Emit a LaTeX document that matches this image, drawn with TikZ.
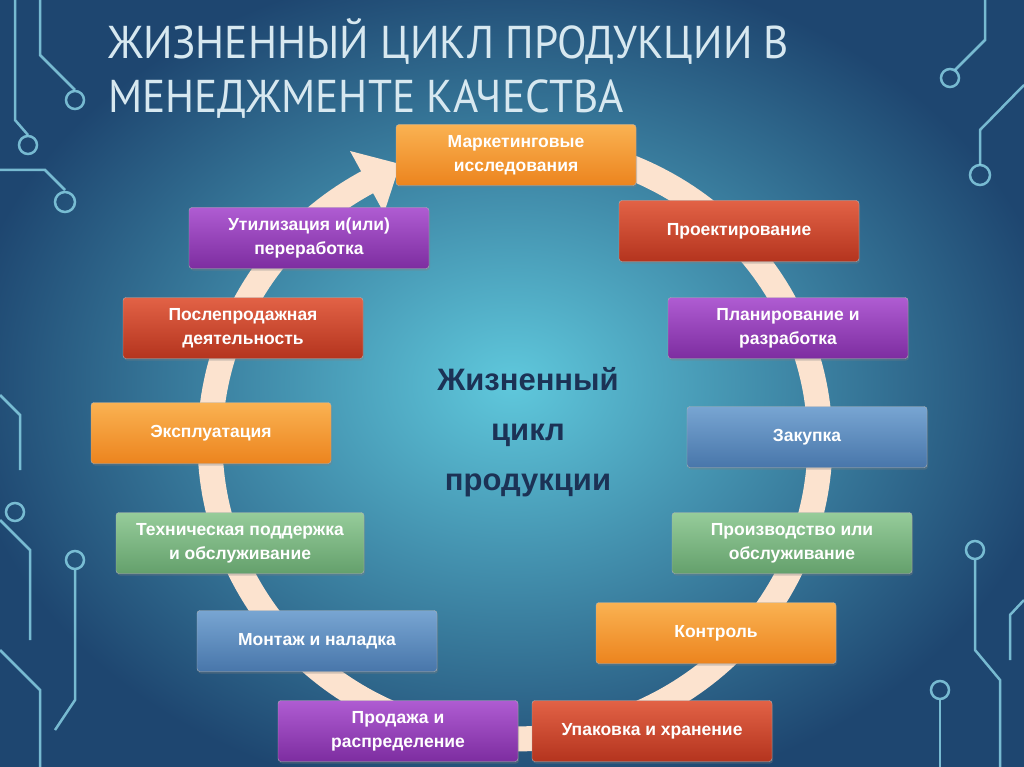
\documentclass[tikz,border=0pt]{standalone}
\usepackage{fontspec}
\setmainfont{Liberation Sans}
\newfontfamily\titlefont{PT Sans}
\usetikzlibrary{arrows.meta,shadows}
\definecolor{ringc}{HTML}{FCE3CF}
\definecolor{circ}{HTML}{8ED8EA}
\begin{document}
\begin{tikzpicture}[x=1pt,y=-1pt,
  bx/.style={rounded corners=3pt,minimum width=240pt,minimum height=61pt,align=center,
    text=white,font=\bfseries\fontsize{17.5}{24}\selectfont,draw=white!70!black,line width=0.4pt,
    drop shadow={shadow xshift=1pt,shadow yshift=-2pt,opacity=0.35}},
  cor/.style={bx,top color={rgb,255:red,250;green,178;blue,82},bottom color={rgb,255:red,236;green,132;blue,30}},
  cred/.style={bx,top color={rgb,255:red,226;green,98;blue,70},bottom color={rgb,255:red,180;green,52;blue,30}},
  cpu/.style={bx,top color={rgb,255:red,175;green,92;blue,210},bottom color={rgb,255:red,125;green,45;blue,160}},
  cbl/.style={bx,top color={rgb,255:red,120;green,165;blue,210},bottom color={rgb,255:red,72;green,118;blue,170}},
  cgr/.style={bx,top color={rgb,255:red,150;green,204;blue,154},bottom color={rgb,255:red,100;green,160;blue,108}},
  ckt/.style={circ,line width=2.5pt,opacity=0.8},
  dot/.style={circ,line width=2.5pt,opacity=0.8}]
\useasboundingbox (0,0) rectangle (1024,767);
\shade[inner color={rgb,255:red,95;green,200;blue,220},outer color={rgb,255:red,30;green,70;blue,112}]
  (-40,-40) rectangle (1064,807);
% circuit decorations
\draw[ckt] (40,0) -- (40,55) -- (75,90);
\draw[dot] (75,100) circle (9);
\draw[ckt] (15,0) -- (15,120) -- (28,135);
\draw[dot] (28,145) circle (9);
\draw[ckt] (0,170) -- (45,170) -- (65,190);
\draw[dot] (65,202) circle (10);
\draw[ckt] (985,0) -- (985,40) -- (955,70);
\draw[dot] (950,78) circle (9);
\draw[ckt] (1024,85) -- (980,130) -- (980,165);
\draw[dot] (980,175) circle (10);
\draw[ckt] (0,395) -- (20,415) -- (20,470);
\draw[ckt] (0,520) -- (30,550) -- (30,640);
\draw[dot] (15,512) circle (9);
\draw[ckt] (75,570) -- (75,700) -- (55,730);
\draw[dot] (75,560) circle (9);
\draw[ckt] (0,650) -- (40,690) -- (40,767);
\draw[ckt] (975,560) -- (975,650) -- (1000,680) -- (1000,767);
\draw[dot] (975,550) circle (9);
\draw[ckt] (1024,600) -- (1010,615) -- (1010,660);
\draw[ckt] (940,700) -- (940,767);
\draw[dot] (940,690) circle (9);
% ring
\draw[ringc,line width=25pt]
  plot[domain=100:-241.5,samples=240] ({515+305*cos(\x)},{442-297*sin(\x)});
\coordinate (tip) at (400,164);
\fill[ringc] (350,151) -- (tip) -- (384,213) -- cycle;
% title
\node[anchor=north west,align=left,text={rgb,255:red,215;green,232;blue,240},
  font=\titlefont\fontsize{46}{54}\selectfont,inner sep=0pt,xscale=0.94] (title) at (108,18)
  {ЖИЗНЕННЫЙ ЦИКЛ ПРОДУКЦИИ В\\МЕНЕДЖМЕНТЕ КАЧЕСТВА};
\node[align=center,text={rgb,255:red,28;green,50;blue,85},font=\bfseries\fontsize{31}{50}\selectfont] (center) at (528,432)
  {Жизненный\\цикл\\продукции};
% boxes
\node[cor]  (b1)  at (516,155) {Маркетинговые\\исследования};
\node[cred] (b2)  at (739,231) {Проектирование};
\node[cpu]  (b3)  at (788,328) {Планирование и\\разработка};
\node[cbl]  (b4)  at (807,437) {Закупка};
\node[cgr]  (b5)  at (792,543) {Производство или\\обслуживание};
\node[cor]  (b6)  at (716,633) {Контроль};
\node[cred] (b7)  at (652,731) {Упаковка и хранение};
\node[cpu]  (b8)  at (398,731) {Продажа и\\распределение};
\node[cbl]  (b9)  at (317,641) {Монтаж и наладка};
\node[cgr,minimum width=248pt]  (b10) at (240,543) {Техническая поддержка\\и обслуживание};
\node[cor]  (b11) at (211,433) {Эксплуатация};
\node[cred] (b12) at (243,328) {Послепродажная\\деятельность};
\node[cpu]  (b13) at (309,238) {Утилизация и(или)\\переработка};
\end{tikzpicture}
\end{document}
